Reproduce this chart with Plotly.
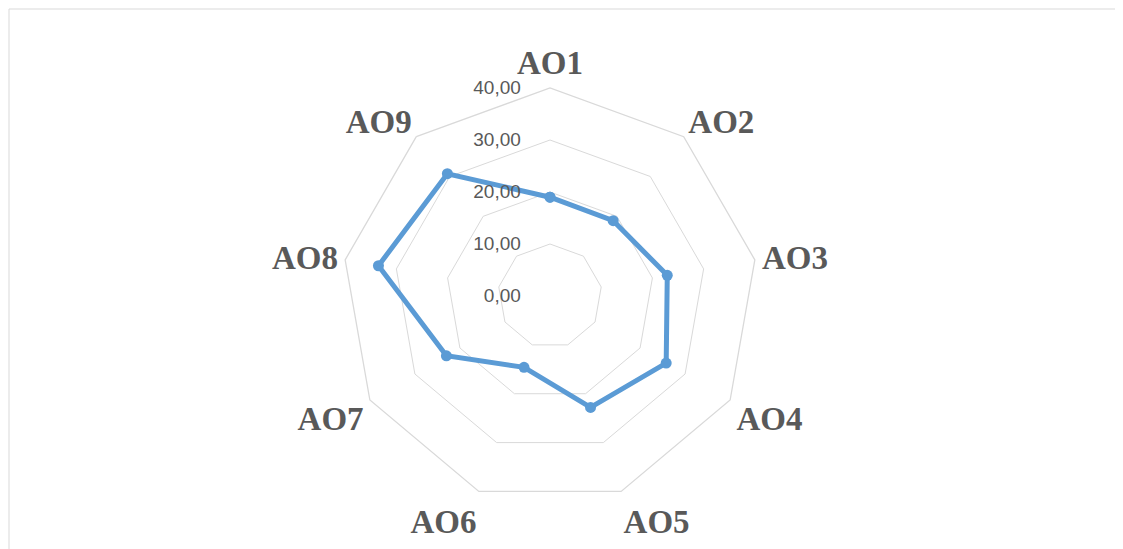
import plotly.graph_objects as go

categories = ["AO1", "AO2", "AO3", "AO4", "AO5", "AO6", "AO7", "AO8", "AO9"]
values = [19.0, 18.9, 22.9, 25.8, 22.8, 14.6, 23.0, 33.5, 30.7]
radial_ticks = [0, 10, 20, 30, 40]

W, H = 1123, 549
OFF = 8  # default page body margin
cx, cy, R = 550 - OFF, 296 - OFF, 208

fig = go.Figure()
fig.add_trace(go.Scatterpolar(
    r=values + values[:1],
    theta=categories + categories[:1],
    mode="lines+markers",
    line=dict(color="#5B9BD5", width=5),
    marker=dict(color="#5B9BD5", size=11),
    showlegend=False,
    hoverinfo="skip",
))

fig.update_layout(
    width=W, height=H,
    margin=dict(l=0, r=0, t=0, b=0),
    paper_bgcolor="white",
    separators=",.",
    polar=dict(
        domain=dict(x=[(cx - R) / W, (cx + R) / W],
                    y=[(H - cy - R) / H, (H - cy + R) / H]),
        bgcolor="white",
        gridshape="linear",
        radialaxis=dict(
            range=[0, 40],
            tickvals=radial_ticks,
            tickformat=".2f",
            angle=90,
            tickangle=90,
            side="counterclockwise",
            showline=False,
            ticks="outside",
            ticklen=22,
            tickcolor="rgba(0,0,0,0)",
            gridcolor="#d9d9d9",
            gridwidth=1.3,
            tickfont=dict(family="Liberation Sans", size=19, color="#595959"),
        ),
        angularaxis=dict(
            direction="clockwise",
            rotation=90,
            showgrid=False,
            showline=True,
            linecolor="#d9d9d9",
            linewidth=1.3,
            ticks="",
            tickfont=dict(family="Liberation Serif", size=33, color="#595959", weight="bold"),
        ),
    ),
    shapes=[dict(type="rect", xref="paper", yref="paper",
                 x0=1 / W, x1=1.02, y0=-0.02, y1=1 - 1 / H,
                 line=dict(color="#d9d9d9", width=1))],
)

fig.write_html("out.html")
